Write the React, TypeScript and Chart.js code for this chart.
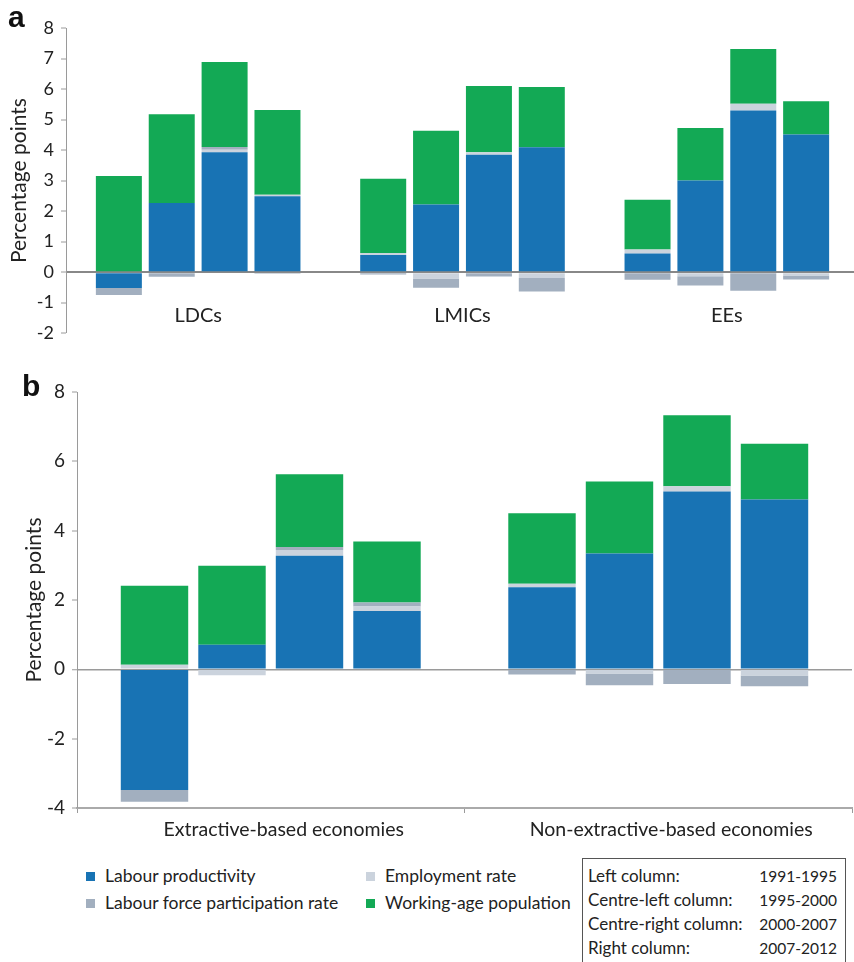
import React, { useEffect, useRef } from "react";
import { Chart, registerables } from "chart.js";

Chart.register(...registerables);

const FONT = "Lato, 'Open Sans', sans-serif";
const TEXT = "#222222";
const AXIS = "#9a9a9a";

// Decomposition components, bottom to top of each column
const components = [
  "Labour productivity",
  "Employment rate",
  "Labour force participation rate",
  "Working-age population",
];
const componentColors = ["#1873b4", "#cbd3dd", "#a2afbf", "#13a955"];

// Columns within each group
const periods = ["1991-1995", "1995-2000", "2000-2007", "2007-2012"];
const periodNames = ["Left column:", "Centre-left column:", "Centre-right column:", "Right column:"];

// Panel a: country income groups; each row holds the four periods
const incomeGroups = ["LDCs", "LMICs", "EEs"];
const aProductivity = [
  [-0.52, 2.27, 3.93, 2.49],
  [0.56, 2.22, 3.85, 4.09],
  [0.61, 3.0, 5.3, 4.51],
];
const aEmployment = [
  [0, 0, 0.08, 0.05],
  [0.07, -0.21, 0.08, -0.19],
  [0.13, -0.13, 0.22, -0.11],
];
const aParticipation = [
  [-0.23, -0.15, 0.09, -0.05],
  [-0.08, -0.3, -0.14, -0.44],
  [-0.25, -0.31, -0.61, -0.13],
];
const aWorkingAge = [
  [3.15, 2.9, 2.79, 2.77],
  [2.43, 2.41, 2.17, 1.98],
  [1.63, 1.72, 1.79, 1.09],
];
const aTicks = { min: -2, max: 8, step: 1 };

// Panel b: extractive vs non-extractive economies
const economyGroups = ["Extractive-based economies", "Non-extractive-based economies"];
const bProductivity = [
  [-3.48, 0.71, 3.28, 1.68],
  [2.37, 3.34, 5.13, 4.9],
];
const bEmployment = [
  [0.13, -0.17, 0.16, 0.13],
  [0.1, -0.12, 0.15, -0.18],
];
const bParticipation = [
  [-0.34, 0, 0.09, 0.12],
  [-0.15, -0.34, -0.42, -0.31],
];
const bWorkingAge = [
  [2.28, 2.28, 2.1, 1.76],
  [2.03, 2.08, 2.05, 1.61],
];
const bTicks = { min: -4, max: 8, step: 2 };

function buildDatasets(series: number[][][]) {
  const out: any[] = [];
  periods.forEach((_, p) => {
    series.forEach((comp, c) => {
      out.push({
        label: components[c],
        stack: "col" + p,
        data: comp.map((group) => group[p]),
        backgroundColor: componentColors[c],
        borderWidth: 0,
        categoryPercentage: 0.8,
        barPercentage: 0.87,
      });
    });
  });
  return out;
}

function yScale(
  t: { min: number; max: number; step: number },
  width: number,
  titlePad: number,
  tickSize: number,
  zeroColor: string,
  zeroWidth: number
) {
  return {
    stacked: true,
    min: t.min,
    max: t.max,
    z: 1,
    ticks: { stepSize: t.step, color: TEXT, padding: 7, font: { family: FONT, size: tickSize } },
    grid: {
      drawOnChartArea: true,
      color: (ctx: any) => (ctx.tick && ctx.tick.value === 0 ? zeroColor : "rgba(0,0,0,0)"),
      lineWidth: (ctx: any) => (ctx.tick && ctx.tick.value === 0 ? zeroWidth : 0),
      tickColor: AXIS,
      tickLength: 5,
      tickWidth: 1,
    },
    border: { color: AXIS, width: 1 },
    title: {
      display: true,
      text: "Percentage points",
      color: TEXT,
      font: { family: FONT, size: 21 },
      padding: { top: titlePad, bottom: 0 },
    },
    afterFit: (s: any) => {
      s.width = width;
    },
  };
}

function useChart(ref: React.RefObject<HTMLCanvasElement>, build: () => any) {
  useEffect(() => {
    if (!ref.current) return;
    const chart = new Chart(ref.current, build());
    return () => chart.destroy();
  }, []);
}

function PanelA() {
  const ref = useRef<HTMLCanvasElement>(null);
  useChart(ref, () => ({
    type: "bar",
    data: {
      labels: incomeGroups,
      datasets: buildDatasets([aProductivity, aEmployment, aParticipation, aWorkingAge]),
    },
    options: {
      responsive: false,
      animation: false,
      devicePixelRatio: 1,
      layout: { padding: { top: 28, bottom: 6, left: 0, right: 7 } },
      plugins: { legend: { display: false }, tooltip: { enabled: false } },
      scales: {
        x: {
          stacked: true,
          position: { y: -0.75 },
          grid: { display: false },
          border: { display: false },
          ticks: { color: TEXT, padding: 0, maxRotation: 0, autoSkip: false, font: { family: FONT, size: 20 } },
        },
        y: yScale(aTicks, 66, 7, 18, "#888888", 2),
      },
    },
  }));
  return <canvas ref={ref} width={866} height={351} style={{ position: "absolute", left: 0, top: 0 }} />;
}

function PanelB() {
  const ref = useRef<HTMLCanvasElement>(null);
  useChart(ref, () => ({
    type: "bar",
    data: {
      labels: economyGroups,
      datasets: buildDatasets([bProductivity, bEmployment, bParticipation, bWorkingAge]),
    },
    options: {
      responsive: false,
      animation: false,
      devicePixelRatio: 1,
      layout: { padding: { top: 32, bottom: 0, left: 0, right: 14 } },
      plugins: { legend: { display: false }, tooltip: { enabled: false } },
      scales: {
        x: {
          stacked: true,
          grid: { display: true, drawOnChartArea: false, offset: true, tickLength: 5, tickColor: AXIS },
          border: { color: "#aaaaaa", width: 2 },
          ticks: {
            color: TEXT,
            padding: 5,
            labelOffset: 13,
            maxRotation: 0,
            autoSkip: false,
            font: { family: FONT, size: 19.5 },
          },
          afterFit: (s: any) => {
            s.height = 45;
          },
        },
        y: yScale(bTicks, 77, 22, 19, "#9a9a9a", 1.5),
      },
    },
  }));
  return <canvas ref={ref} width={866} height={493} style={{ position: "absolute", left: 0, top: 360 }} />;
}

function LegendItem({ x, y, color, text }: { x: number; y: number; color: string; text: string }) {
  return (
    <>
      <div style={{ position: "absolute", left: x, top: y - 4, width: 9, height: 9, background: color }} />
      <div
        style={{
          position: "absolute",
          left: x + 19,
          top: y - 12,
          fontSize: 17.5,
          lineHeight: "24px",
          color: TEXT,
          whiteSpace: "nowrap",
        }}
      >
        {text}
      </div>
    </>
  );
}

export default function App() {
  const rowY = [876, 900, 924, 948];
  return (
    <div
      style={{
        position: "absolute",
        left: 0,
        top: 0,
        width: 854,
        height: 962,
        overflow: "hidden",
        background: "#ffffff",
        fontFamily: FONT,
      }}
    >
      <PanelA />
      <PanelB />
      <div
        style={{
          position: "absolute",
          left: 8,
          top: 1,
          fontFamily: "'Liberation Sans', Arial, sans-serif",
          fontWeight: 700,
          fontSize: 30,
          lineHeight: "32px",
          color: "#111",
        }}
      >
        a
      </div>
      <div
        style={{
          position: "absolute",
          left: 22,
          top: 370,
          fontFamily: "'Liberation Sans', Arial, sans-serif",
          fontWeight: 700,
          fontSize: 30,
          lineHeight: "32px",
          color: "#111",
        }}
      >
        b
      </div>

      <LegendItem x={86} y={876} color={componentColors[0]} text={components[0]} />
      <LegendItem x={86} y={903} color={componentColors[2]} text={components[2]} />
      <LegendItem x={366} y={876} color={componentColors[1]} text={components[1]} />
      <LegendItem x={366} y={903} color={componentColors[3]} text={components[3]} />

      <div
        style={{
          position: "absolute",
          left: 582,
          top: 858,
          width: 264,
          height: 110,
          border: "1px solid #555",
          boxSizing: "border-box",
        }}
      />
      {periods.map((p, i) => (
        <React.Fragment key={p}>
          <div
            style={{
              position: "absolute",
              left: 588,
              top: rowY[i] - 12,
              fontSize: 17,
              lineHeight: "24px",
              color: TEXT,
              whiteSpace: "nowrap",
            }}
          >
            {periodNames[i]}
          </div>
          <div
            style={{
              position: "absolute",
              right: 854 - 837,
              top: rowY[i] - 12,
              fontSize: 15.5,
              lineHeight: "24px",
              color: TEXT,
              whiteSpace: "nowrap",
            }}
          >
            {p}
          </div>
        </React.Fragment>
      ))}
    </div>
  );
}
